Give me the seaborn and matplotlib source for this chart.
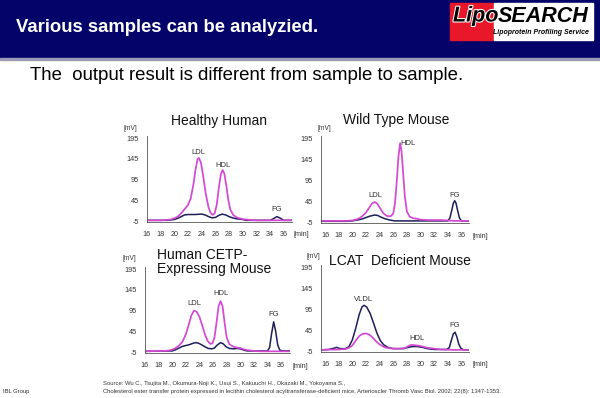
import matplotlib
matplotlib.use("Agg")
import matplotlib.pyplot as plt
import matplotlib.patheffects as pe
from matplotlib.patches import Rectangle
import seaborn as sns

# chromatogram values: time [min] and signal [mV]
# pink = cholesterol, navy = triglyceride

# Healthy Human
healthy_chol_t = [16, 17, 18, 19, 19.5, 20, 20.5, 21, 21.5, 22, 22.4, 22.8, 23.1, 23.4, 23.6, 23.9,
                  24.2, 24.6, 25, 25.3, 25.6, 25.9, 26.2, 26.5, 26.8, 27.05, 27.3, 27.6, 27.9, 28.2,
                  28.6, 29, 29.5, 30, 31, 32, 33, 34, 35, 36, 37.2]
healthy_chol_mv = [-3, -3, -3, -2, -1, 2, 6, 14, 24, 34, 50, 85, 120, 145, 147, 135,
                   105, 60, 28, 15, 10, 14, 35, 75, 108, 118, 110, 80, 45, 22,
                   10, 5, 2, 0, -2, -3, -3, -3, -3, -3, -3]
healthy_tg_t = [16, 19, 20, 20.5, 21, 21.5, 22, 23, 24, 24.5, 25, 25.5, 26, 26.5, 27, 27.5, 28,
                28.5, 29, 30, 30.5, 34, 34.5, 35, 35.5, 36, 37.2]
healthy_tg_mv = [-3, -3, -1, 2, 6, 10, 11, 11, 12, 10, 6, 3, 4, 9, 12, 10, 6,
                 3, 1, -1, -3, -3, 1, 6, 2, -3, -3]

# Wild Type Mouse
wild_chol_t = [15.4, 19, 20, 20.5, 21, 21.5, 22, 22.5, 22.9, 23.25, 23.6, 24, 24.5, 25, 25.4, 25.7,
               26, 26.25, 26.5, 26.75, 27, 27.2, 27.45, 27.7, 28, 28.4, 29, 29.5, 30, 31, 32, 33,
               34, 35, 36, 37.1]
wild_chol_mv = [-2, -2, -1, 1, 4, 10, 18, 30, 40, 43, 40, 30, 17, 10, 9, 10,
                16, 40, 90, 150, 183, 165, 110, 55, 20, 8, 4, 3, 1, 0, 0, 0,
                -1, -2, -2, -2]
wild_tg_t = [15.4, 19, 20, 21, 21.5, 22, 22.5, 23, 23.3, 23.7, 24.2, 24.8, 25.5, 26.2, 34, 34.3,
             34.6, 34.8, 35, 35.2, 35.4, 35.7, 36, 37.1]
wild_tg_mv = [-3, -3, -2, 1, 3, 6, 9, 11, 12, 11, 7, 3, 0, -2, -2, 5,
              25, 40, 46, 40, 25, 5, -2, -2]

# Human CETP-Expressing Mouse
cetp_chol_t = [16, 19, 19.5, 20, 20.5, 21, 21.5, 22, 22.4, 22.8, 23.2, 23.6, 24, 24.4, 24.8, 25.2,
               25.6, 25.9, 26.2, 26.5, 26.8, 27.1, 27.4, 27.7, 28, 28.4, 29, 29.5, 30, 30.5, 31,
               32, 33, 37.3]
cetp_chol_mv = [-3, -2, -1, 1, 5, 11, 20, 38, 60, 83, 95, 92, 80, 60, 38, 22,
                15, 16, 30, 65, 105, 118, 105, 65, 30, 14, 8, 6, 5, 2, 0,
                -2, -3, -3]
cetp_tg_t = [16, 20, 20.5, 21, 21.5, 22, 22.5, 23, 23.4, 23.8, 24.3, 24.8, 25.3, 25.8, 26.2, 26.6,
             27.1, 27.5, 27.9, 28.4, 29, 29.5, 30, 30.5, 31, 34, 34.3, 34.6, 34.9, 35.2, 35.5,
             35.8, 36.2, 37.3]
cetp_tg_mv = [-3, -2, 1, 5, 9, 11, 13, 16, 18, 17, 13, 8, 4, 3, 5, 12,
              18, 15, 8, 4, 3, 4, 3, 0, -2, -2, 6, 40, 68, 45, 12,
              0, -2, -2]

# LCAT Deficient Mouse
lcat_chol_t = [15.4, 18, 19, 19.5, 20, 20.5, 21, 21.5, 22, 22.5, 23, 23.5, 24, 24.5, 25, 26, 27,
               27.8, 28.3, 28.7, 29.2, 29.8, 30.3, 31, 32, 33, 35, 37.1]
lcat_chol_mv = [-2, -1, 0, 3, 9, 20, 31, 36, 37, 34, 27, 18, 11, 6, 3, 1, 1,
                3, 8, 10, 9, 8, 6, 3, 1, -1, -2, -2]
lcat_tg_t = [15.4, 16.5, 17.3, 17.7, 18.2, 19, 19.5, 20, 20.5, 21, 21.4, 21.7, 22.1, 22.6, 23.1,
             23.6, 24.1, 24.6, 25.2, 26, 27.5, 28.2, 28.8, 29.5, 30.3, 31, 32, 33.8, 34.2, 34.5,
             34.8, 35.05, 35.3, 35.6, 35.9, 36.3, 37.1]
lcat_tg_mv = [-2, -1, 2, 4, 1, 1, 6, 22, 50, 82, 100, 104, 100, 85, 62,
              38, 20, 10, 4, 1, 1, 4, 6, 6, 4, 1, -1, -1, 3, 20,
              36, 40, 30, 12, 2, -2, -2]

y_ticks = [195, 145, 95, 45, -5]
x_ticks = list(range(16, 37, 2))

PINK = "#d448d4"
NAVY = "#1e1e5a"
W, H = 600, 398


def px(x, y):
    # slide pixel -> figure fraction
    return x / W, 1 - y / H


def panel(box, xlim, chol_t, chol_mv, tg_t, tg_mv, peaks, mv_xy, min_x):
    x0, y0, x1, y1 = box
    ax = fig.add_axes([x0 / W, 1 - y1 / H, (x1 - x0) / W, (y1 - y0) / H])
    sns.lineplot(x=tg_t, y=tg_mv, ax=ax, color=NAVY, lw=1.1, sort=False)
    sns.lineplot(x=chol_t, y=chol_mv, ax=ax, color=PINK, lw=1.25, sort=False)
    ax.set_xlim(*xlim)
    ax.set_ylim(-7, 200)
    ax.set_xticks(x_ticks)
    ax.set_yticks(y_ticks)
    ax.set_xlabel("")
    ax.set_ylabel("")
    ax.patch.set_alpha(0)
    for s in ["top", "right"]:
        ax.spines[s].set_visible(False)
    for s in ["left", "bottom"]:
        ax.spines[s].set_color("#555555")
        ax.spines[s].set_linewidth(0.6)
    ax.tick_params(axis="x", direction="in", length=2, width=0.5, pad=6.5,
                   labelsize=5.2, colors="#555555", labelcolor="#333333")
    ax.tick_params(axis="y", direction="out", length=2, width=0.5, pad=4,
                   labelsize=5.2, colors="#555555", labelcolor="#333333")
    for name, t, mv in peaks:
        ax.text(t, mv, name, ha="center", va="center", fontsize=5.5, color="#333333")
    fig.text(*px(*mv_xy), "[mV]", ha="center", va="center", fontsize=4.8, color="#333333")
    fig.text(*px(min_x, y1 + 13), "[min]", ha="center", va="center", fontsize=5.2, color="#333333")
    return ax


sns.set_style("white")
plt.rcParams["font.family"] = ["Liberation Sans", "DejaVu Sans"]
plt.rcParams["axes.unicode_minus"] = False

fig = plt.figure(figsize=(6, 3.98), dpi=100)

# header band
fig.patches.append(Rectangle((0, 1 - 58 / H), 1, 58 / H, transform=fig.transFigure,
                             color="#03036a", zorder=0))
fig.patches.append(Rectangle((0, 1 - 60 / H), 1, 2 / H, transform=fig.transFigure,
                             color="#9a9ab4", zorder=0))
fig.text(*px(16, 28), "Various samples can be analyzied.", color="white",
         fontsize=13.3, fontweight="bold", ha="left", va="center")

# logo
fig.patches.append(Rectangle(px(450, 40), 44 / W, 37 / H, transform=fig.transFigure,
                             color="#e8182a", zorder=1))
fig.patches.append(Rectangle(px(494, 40), 99 / W, 37 / H, transform=fig.transFigure,
                             color="white", zorder=1))
lipo = fig.text(*px(453, 16), "Lipo", color="black", fontsize=15.5, fontweight="bold",
                style="italic", ha="left", va="center", zorder=2)
lipo.set_path_effects([pe.withStroke(linewidth=1.5, foreground="white")])
fig.canvas.draw()
lipo_end = lipo.get_window_extent().x1 / fig.bbox.width
fig.text(lipo_end - 1 / W, 1 - 16 / H, "SEARCH", color="black", fontsize=15.5, fontweight="bold",
         style="italic", ha="left", va="center", zorder=2)
fig.text(*px(589, 33), "Lipoprotein Profiling Service", color="black", fontsize=5,
         fontweight="bold", style="italic", ha="right", va="center", zorder=2)

fig.text(*px(30, 75), "The  output result is different from sample to sample.",
         color="black", fontsize=13.4, ha="left", va="center")

# panels
panel((147, 136, 292, 222), (16, 37.2), healthy_chol_t, healthy_chol_mv,
      healthy_tg_t, healthy_tg_mv,
      [("LDL", 23.45, 161), ("HDL", 27.1, 130), ("FG", 35.0, 22)], (130, 129), 301)
panel((321, 136, 469, 223), (15.4, 37.1), wild_chol_t, wild_chol_mv,
      wild_tg_t, wild_tg_mv,
      [("HDL", 28.2, 181), ("LDL", 23.3, 59), ("FG", 35.0, 59)], (324, 129), 480)
panel((145, 267, 290, 353), (16, 37.3), cetp_chol_t, cetp_chol_mv,
      cetp_tg_t, cetp_tg_mv,
      [("LDL", 23.2, 113), ("HDL", 27.1, 137), ("FG", 34.9, 86)], (129, 258), 300)
panel((321, 265, 469, 352), (15.4, 37.1), lcat_chol_t, lcat_chol_mv,
      lcat_tg_t, lcat_tg_mv,
      [("VLDL", 21.6, 118), ("HDL", 29.5, 25), ("FG", 35.0, 57)], (313, 257), 480)

# panel titles
fig.text(*px(219, 121), "Healthy Human", fontsize=10, ha="center", va="center", color="#111111")
fig.text(*px(396, 120), "Wild Type Mouse", fontsize=10, ha="center", va="center", color="#111111")
fig.text(*px(157, 262), "Human CETP-\nExpressing Mouse", fontsize=10, ha="left", va="center",
         linespacing=1.05, color="#111111")
fig.text(*px(400, 261), "LCAT  Deficient Mouse", fontsize=10, ha="center", va="center",
         color="#111111")

# footer
fig.text(*px(3, 392), "IBL Group", fontsize=4.2, ha="left", va="center", color="#333333")
fig.text(*px(103, 383),
         "Source: Wu C., Tsujita M., Okumura-Noji K., Usui S., Kakuuchi H., Okazaki M., Yokoyama S.,",
         fontsize=4.2, ha="left", va="center", color="#333333")
fig.text(*px(103, 392),
         "Cholesterol ester transfer protein expressed in lecithin cholesterol acyltransferase-deficient "
         "mice, Arterioscler Thromb Vasc Biol. 2002; 22(8): 1347-1353.",
         fontsize=4.2, ha="left", va="center", color="#333333")

fig.savefig("out.png", dpi=100)
